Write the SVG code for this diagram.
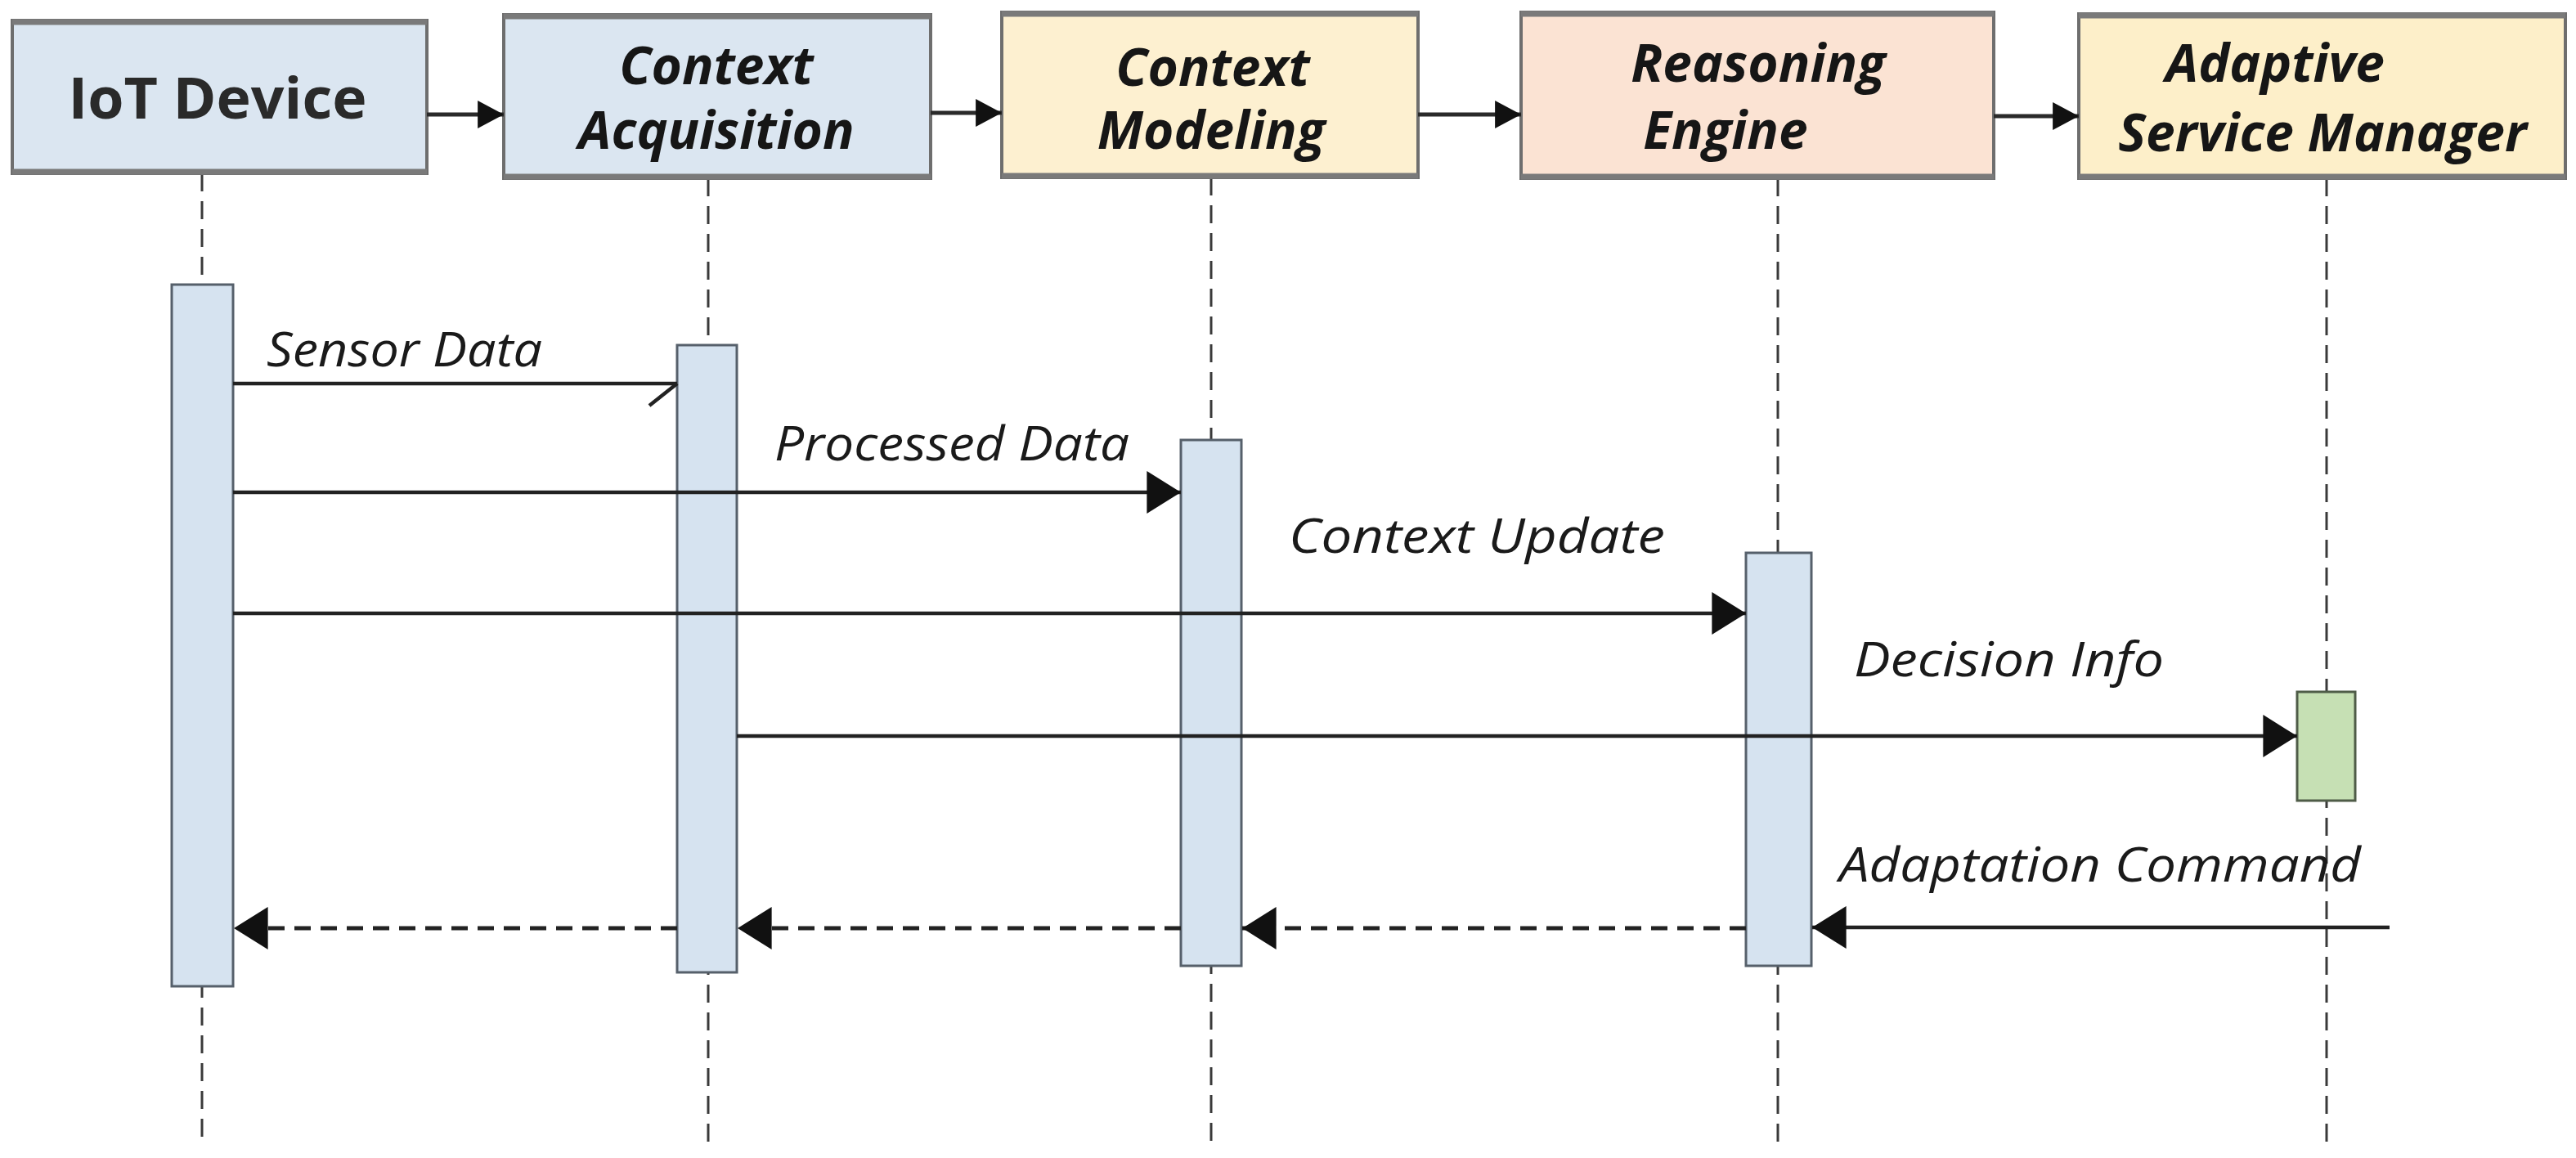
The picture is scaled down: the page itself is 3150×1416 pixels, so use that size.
<svg xmlns="http://www.w3.org/2000/svg" width="3150" height="1416" viewBox="0 0 3150 1416">
<style>
  .box { stroke: #6e6e6e; stroke-width: 4; }
  .edge { stroke: #7a7a7a; stroke-width: 7; }
  .b1 { fill: #dbe6f1; }
  .b3 { fill: #fdf0d0; }
  .b4 { fill: #fbe3d3; }
  .b5 { fill: #fdefc9; }
  .title { font-family: "Open Sans", "Noto Sans", sans-serif; font-weight: 700; font-style: italic; font-size: 64px; fill: #161616; }
  .title0 { font-family: "Open Sans", "Noto Sans", sans-serif; font-weight: 700; font-size: 70px; fill: #2a2a2a; }
  .msg { font-family: "Open Sans", "Noto Sans", sans-serif; font-style: italic; font-size: 58px; fill: #1a1a1a; }
  .life { stroke: #3a3a3a; stroke-width: 3; stroke-dasharray: 22 12; fill: none; }
  .bar { fill: #d6e3f0; stroke: #56606b; stroke-width: 3; }
  .gbar { fill: #c6e0b4; stroke: #4f5c48; stroke-width: 3; }
  .solid { stroke: #222; stroke-width: 4.5; fill: none; }
  .dash { stroke: #222; stroke-width: 5; stroke-dasharray: 20 12; fill: none; }
  .top { stroke: #2a2a2a; stroke-width: 5; fill: none; }
</style>
<defs>
  <marker id="head" markerUnits="userSpaceOnUse" markerWidth="42" markerHeight="52" viewBox="0 0 40 50" refX="40" refY="25" orient="auto">
    <path d="M0 0 L40 25 L0 50 Z" fill="#111"/>
  </marker>
  <marker id="small" markerUnits="userSpaceOnUse" markerWidth="32" markerHeight="34" viewBox="0 0 30 32" refX="30" refY="16" orient="auto">
    <path d="M0 0 L30 16 L0 32 Z" fill="#111"/>
  </marker>
  <marker id="half" markerUnits="userSpaceOnUse" markerWidth="40" markerHeight="34" viewBox="0 0 40 34" refX="38" refY="3" orient="auto">
    <path d="M38 3 L4 30" stroke="#222" stroke-width="4.5" fill="none"/>
  </marker>
</defs>
<rect x="0" y="0" width="3150" height="1416" fill="#ffffff"/>

<g id="lifelines">
  <line class="life" x1="247" y1="212" x2="247" y2="1396"/>
  <line class="life" x1="866" y1="218" x2="866" y2="1396"/>
  <line class="life" x1="1481" y1="217" x2="1481" y2="1396"/>
  <line class="life" x1="2174" y1="218" x2="2174" y2="1396"/>
  <line class="life" x1="2845" y1="218" x2="2845" y2="1396"/>
</g>

<g id="node-iot">
  <rect class="box b1" x="15" y="25" width="507" height="187"/>
  <line class="edge" x1="15" y1="27" x2="522" y2="27"/>
  <line class="edge" x1="15" y1="210" x2="522" y2="210"/>
  <text class="title0" x="266" y="145" text-anchor="middle" textLength="365" lengthAdjust="spacingAndGlyphs">IoT Device</text>
  <rect class="bar" x="210" y="348" width="75" height="858"/>
</g>

<g id="node-acq">
  <rect class="box b1" x="616" y="18" width="522" height="200"/>
  <line class="edge" x1="616" y1="20" x2="1138" y2="20"/>
  <line class="edge" x1="616" y1="216" x2="1138" y2="216"/>
  <text class="title" text-anchor="middle"><tspan x="876" y="103">Context</tspan><tspan x="876" y="182">Acquisition</tspan></text>
  <rect class="bar" x="828" y="422" width="73" height="767"/>
</g>

<g id="node-model">
  <rect class="box b3" x="1225" y="15" width="509" height="202"/>
  <line class="edge" x1="1225" y1="17" x2="1734" y2="17"/>
  <line class="edge" x1="1225" y1="215" x2="1734" y2="215"/>
  <text class="title" text-anchor="middle"><tspan x="1483" y="105">Context</tspan><tspan x="1481" y="182">Modeling</tspan></text>
  <rect class="bar" x="1444" y="538" width="74" height="643"/>
</g>

<g id="node-reason">
  <rect class="box b4" x="1860" y="15" width="578" height="203"/>
  <line class="edge" x1="1860" y1="17" x2="2438" y2="17"/>
  <line class="edge" x1="1860" y1="216" x2="2438" y2="216"/>
  <text class="title" text-anchor="middle"><tspan x="2150" y="100">Reasoning</tspan><tspan x="2110" y="182">Engine</tspan></text>
  <rect class="bar" x="2135" y="676" width="80" height="505"/>
</g>

<g id="node-asm">
  <rect class="box b5" x="2542" y="17" width="595" height="201"/>
  <line class="edge" x1="2542" y1="19" x2="3137" y2="19"/>
  <line class="edge" x1="2542" y1="216" x2="3137" y2="216"/>
  <text class="title" text-anchor="middle"><tspan x="2782" y="100">Adaptive</tspan><tspan x="2840" y="185">Service Manager</tspan></text>
  <rect class="gbar" x="2809" y="846" width="71" height="133"/>
</g>

<g id="connectors">
  <line class="top" x1="522" y1="140" x2="616" y2="140" marker-end="url(#small)"/>
  <line class="top" x1="1138" y1="138" x2="1225" y2="138" marker-end="url(#small)"/>
  <line class="top" x1="1734" y1="140" x2="1860" y2="140" marker-end="url(#small)"/>
  <line class="top" x1="2438" y1="142" x2="2542" y2="142" marker-end="url(#small)"/>

  <line class="solid" x1="285" y1="469" x2="828" y2="469" marker-end="url(#half)"/>
  <line class="solid" x1="285" y1="602" x2="1444" y2="602" marker-end="url(#head)"/>
  <line class="solid" x1="285" y1="750" x2="2135" y2="750" marker-end="url(#head)"/>
  <line class="solid" x1="901" y1="900" x2="2809" y2="900" marker-end="url(#head)"/>
  <line class="solid" x1="2922" y1="1134" x2="2216" y2="1134" marker-end="url(#head)"/>
  <line class="dash" x1="2135" y1="1135" x2="1519" y2="1135" marker-end="url(#head)"/>
  <line class="dash" x1="1444" y1="1135" x2="902" y2="1135" marker-end="url(#head)"/>
  <line class="dash" x1="828" y1="1135" x2="286" y2="1135" marker-end="url(#head)"/>

  <text class="msg" x="326" y="448" textLength="337" lengthAdjust="spacingAndGlyphs">Sensor Data</text>
  <text class="msg" x="947" y="563" textLength="434" lengthAdjust="spacingAndGlyphs">Processed Data</text>
  <text class="msg" x="1576" y="676" textLength="460" lengthAdjust="spacingAndGlyphs">Context Update</text>
  <text class="msg" x="2267" y="827" textLength="379" lengthAdjust="spacingAndGlyphs">Decision Info</text>
  <text class="msg" x="2249" y="1078" textLength="638" lengthAdjust="spacingAndGlyphs">Adaptation Command</text>
</g>
</svg>
